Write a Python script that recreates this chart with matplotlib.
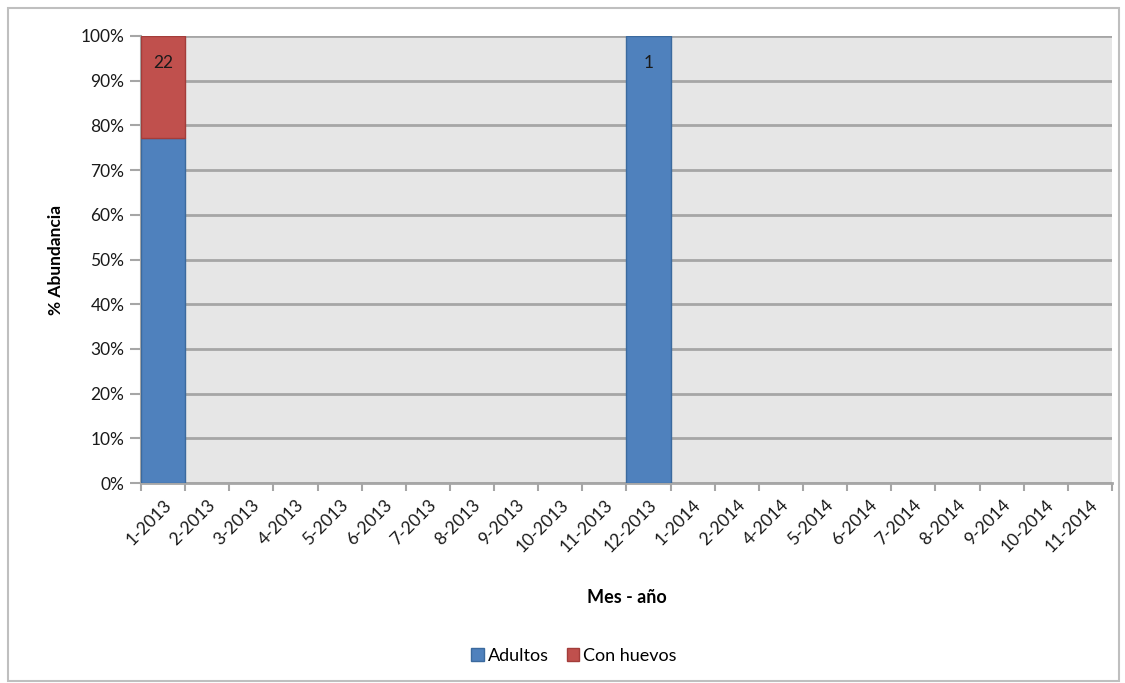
import numpy as np
import matplotlib.pyplot as plt
from matplotlib.patches import Rectangle

plt.rcParams['font.family'] = ['Lato', 'DejaVu Sans']

# Datos: conteos por mes
meses = ['1-2013', '2-2013', '3-2013', '4-2013', '5-2013', '6-2013', '7-2013',
         '8-2013', '9-2013', '10-2013', '11-2013', '12-2013', '1-2014', '2-2014',
         '4-2014', '5-2014', '6-2014', '7-2014', '8-2014', '9-2014', '10-2014',
         '11-2014']
adultos = [17, 0, 0, 0, 0, 0, 0, 0, 0, 0, 0, 1, 0, 0, 0, 0, 0, 0, 0, 0, 0, 0]
con_huevos = [5, 0, 0, 0, 0, 0, 0, 0, 0, 0, 0, 0, 0, 0, 0, 0, 0, 0, 0, 0, 0, 0]

adultos = np.array(adultos, dtype=float)
con_huevos = np.array(con_huevos, dtype=float)
total = adultos + con_huevos
safe = np.where(total > 0, total, 1)
p_adultos = adultos / safe
p_huevos = con_huevos / safe

fig = plt.figure(figsize=(11.25, 6.83), dpi=100)
ax = fig.add_axes([0.1253, 0.2928, 0.8631, 0.6545])

x = np.arange(len(meses))
b1 = ax.bar(x, p_adultos, width=1.0, color='#4F81BD', edgecolor='#3B6A9E',
            linewidth=1, label='Adultos', zorder=3)
b2 = ax.bar(x, p_huevos, width=1.0, bottom=p_adultos, color='#C0504D',
            edgecolor='#A33D3A', linewidth=1, label='Con huevos', zorder=3)
# ocultar barras vacías (si no, se ve el borde)
for p in list(b1) + list(b2):
    if p.get_height() == 0:
        p.set_visible(False)

# etiqueta con el total de individuos
for i, n in enumerate(total):
    if n > 0:
        ax.text(i, 0.94, f'{int(n)}', ha='center', va='center',
                fontsize=12.5, color='#1a1a1a', zorder=4)

ax.set_xlim(-0.5, len(meses) - 0.5)
ax.set_ylim(0, 1)
ax.set_facecolor('#E6E6E6')

ax.set_yticks(np.arange(0, 1.01, 0.1))
ax.set_yticklabels([f'{int(round(v * 100))}%' for v in np.arange(0, 1.01, 0.1)])
ax.yaxis.grid(True, color='#A6A6A6', linewidth=2, zorder=1)
ax.set_axisbelow(True)

ax.set_xticks(x)
ax.set_xticklabels(meses, rotation=45, ha='right', rotation_mode='anchor')
ax.set_xticks(np.arange(-0.5, len(meses), 1), minor=True)
ax.tick_params(axis='x', which='major', length=0, pad=10, labelsize=12.5,
               colors='#1a1a1a')
ax.tick_params(axis='x', which='minor', length=6, width=1.5, color='#A6A6A6')
ax.tick_params(axis='y', length=8, width=1.5, color='#A6A6A6', labelsize=12.5,
               labelcolor='#1a1a1a', pad=4)

for s in ['top', 'right']:
    ax.spines[s].set_visible(False)
ax.spines['left'].set_color('#A6A6A6')
ax.spines['left'].set_linewidth(1.5)
ax.spines['bottom'].set_color('#A6A6A6')
ax.spines['bottom'].set_linewidth(2)

ax.set_ylabel('% Abundancia', fontsize=12.5, fontweight='bold', labelpad=12)
ax.set_xlabel('Mes - año', fontsize=13, fontweight='bold', labelpad=24)

fig.legend(loc='center', bbox_to_anchor=(0.51, 0.04), ncol=2, frameon=False,
           fontsize=13, handlelength=0.7, handleheight=0.7, handletextpad=0.2,
           columnspacing=1.0)

# borde del gráfico
fig.patches.append(Rectangle((0.007, 0.003), 0.988, 0.985, transform=fig.transFigure,
                             fill=False, edgecolor='#BFBFBF', linewidth=1.5))

fig.savefig('out.png', dpi=100)
